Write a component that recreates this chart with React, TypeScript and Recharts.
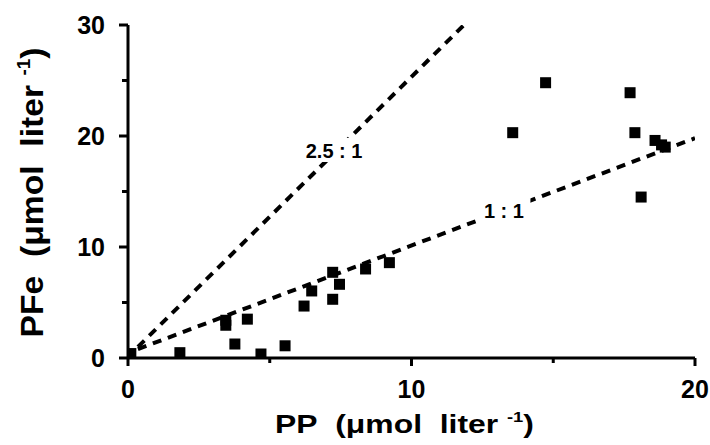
import React from 'react';
import { ScatterChart, Scatter, XAxis, YAxis } from 'recharts';

// Data points (PP, PFe) in µmol/liter
const ppValues = [0.1, 1.83, 3.45, 3.45, 3.77, 4.21, 4.69, 5.54, 6.21, 6.48, 7.22, 7.22, 7.46, 8.38, 9.22, 13.57, 14.73, 17.71, 17.88, 18.1, 18.59, 18.82, 18.95];
const pfeValues = [0.4, 0.48, 3.4, 2.95, 1.26, 3.5, 0.36, 1.1, 4.68, 6.04, 7.72, 5.29, 6.64, 8.02, 8.59, 20.3, 24.8, 23.9, 20.3, 14.5, 19.6, 19.2, 19.0];

// Reference ratio lines
const line25X = [0.35, 11.85];
const line25Y = [1.0, 30];
const line11X = [0.35, 20];
const line11Y = [0.8, 19.8];

// Annotations
const annX = [7.27, 13.26];
const annY = [18.65, 13.24];
const annText = ['2.5 : 1', '1 : 1'];

const xTicks = [0, 5, 10, 15, 20];
const xLabeled = [0, 10, 20];
const yTicks = [0, 5, 10, 15, 20, 25, 30];
const yLabeled = [0, 10, 20, 30];

const FONT = '"Liberation Sans", Arial, Helvetica, sans-serif';
const NB = '\u00a0';

const points = ppValues.map((x, i) => ({ x, y: pfeValues[i] }));
const line25 = line25X.map((x, i) => ({ x, y: line25Y[i] }));
const line11 = line11X.map((x, i) => ({ x, y: line11Y[i] }));
const annotations = annX.map((x, i) => ({ x, y: annY[i], text: annText[i] }));

const SquareShape = (props: any) => {
  const { cx, cy } = props;
  if (cx == null || cy == null) return <g />;
  const s = 11;
  return <rect x={cx - s / 2} y={cy - s / 2} width={s} height={s} fill="#000" />;
};

const NoShape = () => <g />;

const AnnShape = (props: any) => {
  const { cx, cy, payload } = props;
  if (cx == null || cy == null) return <g />;
  const w = payload.text.length * 9 + 8;
  return (
    <g>
      <rect x={cx - w / 2} y={cy - 13} width={w} height={24} fill="#fff" />
      <text x={cx} y={cy + 7} textAnchor="middle" fontFamily={FONT} fontWeight="bold" fontSize={20} fill="#000">
        {payload.text}
      </text>
    </g>
  );
};

const XTick = (props: any) => {
  const { x, y, payload } = props;
  const major = xLabeled.includes(payload.value);
  return (
    <g>
      <line x1={x} x2={x} y1={y} y2={y + (major ? 8 : 5)} stroke="#000" strokeWidth={3} />
      {major && (
        <text x={x} y={y + 40} textAnchor="middle" fontFamily={FONT} fontWeight="bold" fontSize={25} fill="#000">
          {payload.value}
        </text>
      )}
    </g>
  );
};

const YTick = (props: any) => {
  const { x, y, payload } = props;
  const major = yLabeled.includes(payload.value);
  return (
    <g>
      <line x1={x} x2={x - (major ? 9 : 6)} y1={y} y2={y} stroke="#000" strokeWidth={3} />
      {major && (
        <text x={x - 23} y={y + 9} textAnchor="end" fontFamily={FONT} fontWeight="bold" fontSize={25} fill="#000">
          {payload.value}
        </text>
      )}
    </g>
  );
};

const XLabel = (props: any) => {
  const vb = props.viewBox || { x: 128, y: 358, width: 567, height: 87 };
  const cx = vb.x + vb.width / 2 - 7;
  const by = vb.y + 75;
  return (
    <text x={cx} y={by} textAnchor="middle" fontFamily={FONT} fontWeight="bold" fontSize={26} fill="#000" textLength={259} lengthAdjust="spacingAndGlyphs">
      <tspan>{`PP${NB}${NB}(μmol${NB}${NB}liter${NB}`}</tspan>
      <tspan dy={-11} fontSize={15}>-1</tspan>
      <tspan dy={11}>)</tspan>
    </text>
  );
};

const YLabel = (props: any) => {
  const vb = props.viewBox || { x: 0, y: 25, width: 128, height: 333 };
  const cy = vb.y + vb.height / 2 + 1;
  const bx = 43;
  return (
    <text x={bx} y={cy} transform={`rotate(-90 ${bx} ${cy})`} textAnchor="middle" fontFamily={FONT} fontWeight="bold" fontSize={32} fill="#000" textLength={290} lengthAdjust="spacingAndGlyphs">
      <tspan>{`PFe${NB}${NB}(μmol${NB}${NB}liter${NB}`}</tspan>
      <tspan dy={-13} fontSize={18}>-1</tspan>
      <tspan dy={13}>)</tspan>
    </text>
  );
};

export default function App() {
  return (
    <div style={{ position: 'absolute', left: 0, top: 0, width: 710, height: 445, background: '#fff' }}>
      <ScatterChart width={710} height={445} margin={{ top: 25, right: 15, bottom: 0, left: 0 }}>
        <XAxis
          type="number"
          dataKey="x"
          domain={[0, 20]}
          ticks={xTicks}
          allowDataOverflow
          height={87}
          tickSize={0}
          tickMargin={0}
          tickLine={false}
          axisLine={{ stroke: '#000', strokeWidth: 3 }}
          tick={<XTick />}
          interval={0}
          label={(p: any) => <XLabel {...p} />}
        />
        <YAxis
          type="number"
          dataKey="y"
          domain={[0, 30]}
          ticks={yTicks}
          allowDataOverflow
          width={128}
          tickSize={0}
          tickMargin={0}
          tickLine={false}
          axisLine={{ stroke: '#000', strokeWidth: 3 }}
          tick={<YTick />}
          interval={0}
          label={(p: any) => <YLabel {...p} />}
        />
        <Scatter
          data={line25}
          line={{ stroke: '#000', strokeWidth: 4, strokeDasharray: '9 7' }}
          lineType="joint"
          shape={<NoShape />}
          isAnimationActive={false}
        />
        <Scatter
          data={line11}
          line={{ stroke: '#000', strokeWidth: 4, strokeDasharray: '9 7' }}
          lineType="joint"
          shape={<NoShape />}
          isAnimationActive={false}
        />
        <Scatter data={annotations} shape={<AnnShape />} isAnimationActive={false} />
        <Scatter data={points} shape={<SquareShape />} isAnimationActive={false} />
      </ScatterChart>
    </div>
  );
}
